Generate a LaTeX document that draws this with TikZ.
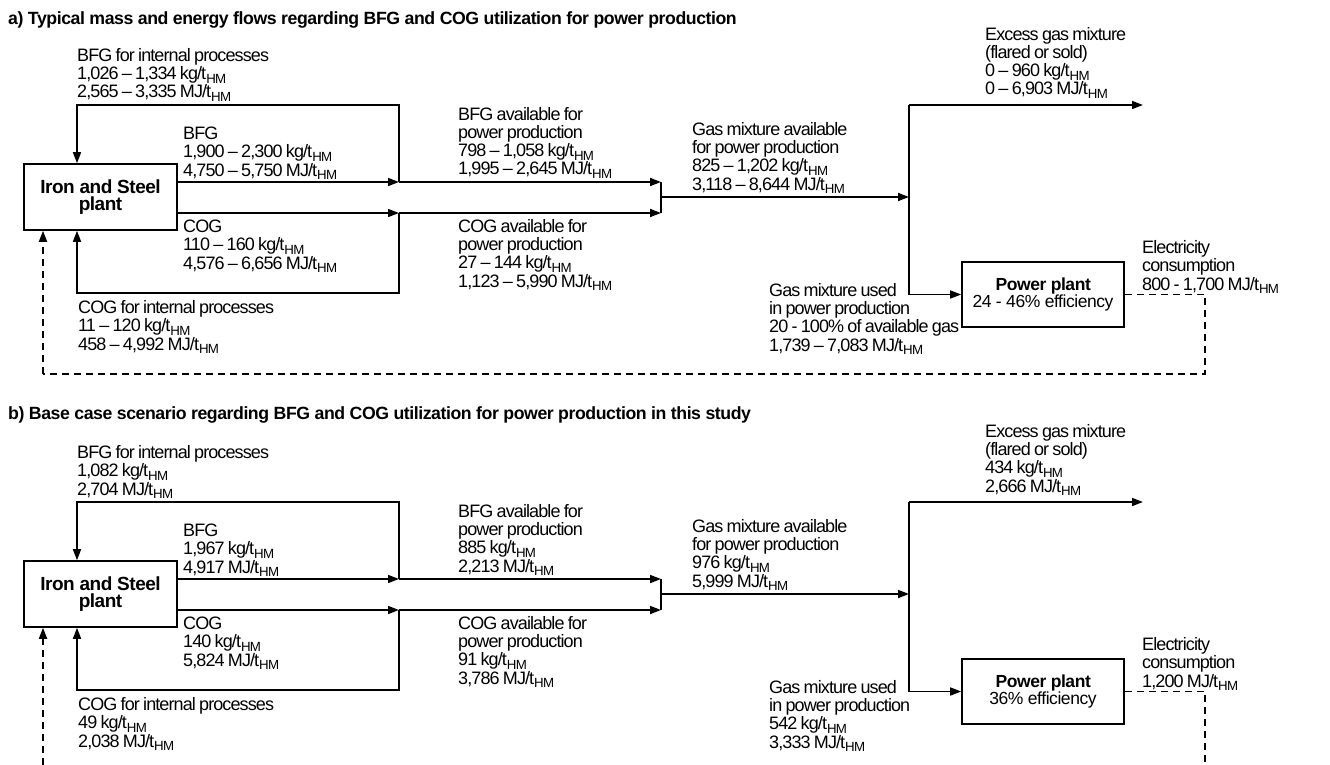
\documentclass[tikz,border=0pt]{standalone}
\usepackage{fontspec}
\setmainfont{Liberation Sans}[LetterSpace=-5, WordSpace=0.8]
\newfontfamily\widefont{Liberation Sans}[LetterSpace=-2.5]
\usetikzlibrary{arrows.meta}
\newcommand{\tHM}{t\raisebox{-0.35ex}{\fontsize{13.3}{13}\selectfont HM}}
\tikzset{
  lbl/.style={anchor=base west, inner sep=0pt, align=left, font=\fontsize{18}{18.2}\selectfont},
  ttl/.style={anchor=base west, inner sep=0pt, font=\widefont\fontsize{17.7}{18}\selectfont\bfseries},
  plantbox/.style={draw, line width=1.6pt, inner sep=0pt, align=center, font=\widefont\fontsize{17.5}{17.5}\selectfont},
  ironbox/.style={plantbox, font=\widefont\fontsize{19}{17}\selectfont\bfseries},
  flow/.style={line width=1.6pt, -{Triangle[length=11pt,width=8pt]}},
  pipe/.style={line width=1.6pt},
  dsh/.style={line width=1.7pt, dash pattern=on 7pt off 5pt},
  dsharrow/.style={dsh, -{Triangle[length=11pt,width=8pt]}}
}
\begin{document}
\begin{tikzpicture}[x=1pt,y=-1pt]
\useasboundingbox (0,0) rectangle (1330,765);

% ---------------- panel a ----------------
\node[ttl] (ta) at (8,25) {a) Typical mass and energy flows regarding BFG and COG utilization for power production};

\node[ironbox, minimum width=153pt, minimum height=66pt] (ispa) at (100.5,197) {Iron and Steel\\plant};
\node[plantbox, minimum width=162pt, minimum height=65pt] (ppa) at (1043,294.5) {\textbf{Power plant}\\24 - 46\% efficiency};

\coordinate (a1) at (399,182);
\coordinate (a2) at (399,213);
\coordinate (am1) at (661,182);
\coordinate (am2) at (661,213);
\coordinate (am3) at (661,197);
\coordinate (as1) at (909,197);
\coordinate (as0) at (909,105);
\coordinate (as2) at (909,294.5);
\coordinate (aex) at (1143,105);
\coordinate (ad1) at (1205,294.5);
\coordinate (ad2) at (1205,374);
\coordinate (ad3) at (43,374);

\draw[flow] (ispa.east |- a1) -- (a1);
\draw[flow] (ispa.east |- a2) -- (a2);
\draw[flow] (a1) |- (77,105) -- (ispa.north -| 77,0);
\draw[flow] (a2) |- (77,293) -- (ispa.south -| 77,0);
\draw[flow] (a1) -- (am1);
\draw[flow] (a2) -- (am2);
\draw[pipe] (am1) -- (am2);
\draw[flow] (am3) -- (as1);
\draw[pipe] (as0) -- (as2);
\draw[flow] (as0) -- (aex);
\draw[flow] (as2) -- (ppa.west);
\draw[dsh] (ppa.east) -- (ad1) -- (ad2) -- (ad3);
\draw[dsharrow] (ad3) -- (ispa.south -| ad3);

\node[lbl] (la1) at (77,98) {BFG for internal processes\\1,026 – 1,334 kg/\tHM\\2,565 – 3,335 MJ/\tHM};
\node[lbl] (la2) at (183,176) {BFG\\1,900 – 2,300 kg/\tHM\\4,750 – 5,750 MJ/\tHM};
\node[lbl] (la3) at (183,269) {COG\\110 – 160 kg/\tHM\\4,576 – 6,656 MJ/\tHM};
\node[lbl] (la4) at (78,350) {COG for internal processes\\11 – 120 kg/\tHM\\458 – 4,992 MJ/\tHM};
\node[lbl] (la5) at (458,175) {BFG available for\\power production\\798 – 1,058 kg/\tHM\\1,995 – 2,645 MJ/\tHM};
\node[lbl] (la6) at (458,287) {COG available for\\power production\\27 – 144 kg/\tHM\\1,123 – 5,990 MJ/\tHM};
\node[lbl] (la7) at (692,190) {Gas mixture available\\for power production\\825 – 1,202 kg/\tHM\\3,118 – 8,644 MJ/\tHM};
\node[lbl] (la8) at (985,95) {Excess gas mixture\\(flared or sold)\\0 – 960 kg/\tHM\\0 – 6,903 MJ/\tHM};
\node[lbl] (la9) at (1142,290) {Electricity\\consumption\\800 - 1,700 MJ/\tHM};
\node[lbl] (la10) at (769,351) {Gas mixture used\\in power production\\20 - 100\% of available gas\\1,739 – 7,083 MJ/\tHM};

% ---------------- panel b ----------------
\node[ttl] (tb) at (8,419) {b) Base case scenario regarding BFG and COG utilization for power production in this study};

\begin{scope}[yshift=-397pt]
\node[ironbox, minimum width=153pt, minimum height=66pt] (ispb) at (100.5,197) {Iron and Steel\\plant};
\node[plantbox, minimum width=162pt, minimum height=65pt] (ppb) at (1043,294.5) {\textbf{Power plant}\\36\% efficiency};

\coordinate (b1) at (399,182);
\coordinate (b2) at (399,213);
\coordinate (bm1) at (661,182);
\coordinate (bm2) at (661,213);
\coordinate (bm3) at (661,197);
\coordinate (bs1) at (909,197);
\coordinate (bs0) at (909,105);
\coordinate (bs2) at (909,294.5);
\coordinate (bex) at (1143,105);
\coordinate (bd1) at (1205,294.5);
\coordinate (bd2) at (1205,368);
\coordinate (bd3) at (43,368);

\draw[flow] (ispb.east |- b1) -- (b1);
\draw[flow] (ispb.east |- b2) -- (b2);
\draw[flow] (b1) |- (77,105) -- (ispb.north -| 77,0);
\draw[flow] (b2) |- (77,293) -- (ispb.south -| 77,0);
\draw[flow] (b1) -- (bm1);
\draw[flow] (b2) -- (bm2);
\draw[pipe] (bm1) -- (bm2);
\draw[flow] (bm3) -- (bs1);
\draw[pipe] (bs0) -- (bs2);
\draw[flow] (bs0) -- (bex);
\draw[flow] (bs2) -- (ppb.west);
\draw[dsh] (ppb.east) -- (bd1) -- (bd2);
\draw[dsharrow] (bd3) -- (ispb.south -| bd3);

\node[lbl] (lb1) at (77,98) {BFG for internal processes\\1,082 kg/\tHM\\2,704 MJ/\tHM};
\node[lbl] (lb2) at (183,176) {BFG\\1,967 kg/\tHM\\4,917 MJ/\tHM};
\node[lbl] (lb3) at (183,269) {COG\\140 kg/\tHM\\5,824 MJ/\tHM};
\node[lbl] (lb4) at (78,350) {COG for internal processes\\49 kg/\tHM\\2,038 MJ/\tHM};
\node[lbl] (lb5) at (458,175) {BFG available for\\power production\\885 kg/\tHM\\2,213 MJ/\tHM};
\node[lbl] (lb6) at (458,287) {COG available for\\power production\\91 kg/\tHM\\3,786 MJ/\tHM};
\node[lbl] (lb7) at (692,190) {Gas mixture available\\for power production\\976 kg/\tHM\\5,999 MJ/\tHM};
\node[lbl] (lb8) at (985,95) {Excess gas mixture\\(flared or sold)\\434 kg/\tHM\\2,666 MJ/\tHM};
\node[lbl] (lb9) at (1142,290) {Electricity\\consumption\\1,200 MJ/\tHM};
\node[lbl] (lb10) at (769,351) {Gas mixture used\\in power production\\542 kg/\tHM\\3,333 MJ/\tHM};
\end{scope}
\end{tikzpicture}
\end{document}
